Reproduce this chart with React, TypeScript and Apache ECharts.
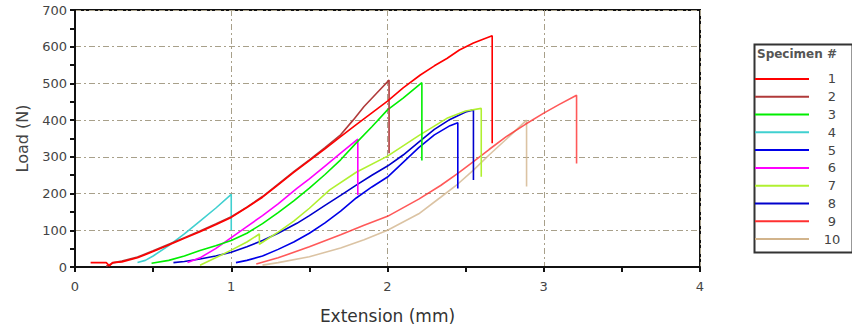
import React, { useEffect, useRef } from "react";
import * as echarts from "echarts";

const specimenNames = ["1", "2", "3", "4", "5", "6", "7", "8", "9", "10"];
const specimenColors = ["#ff0000", "#b03a3a", "#00ee00", "#40d0d0", "#0000e8", "#ff00ff", "#b0f030", "#0000cc", "#ff3030", "#d2b48c"];

const specimen1 = [[0.1,12],[0.2,12],[0.22,3],[0.24,12],[0.3,14],[0.4,25],[0.5,42],[0.6,60],[0.7,78],[0.8,96],[0.9,115],[1.0,135],[1.1,162],[1.2,190],[1.3,224],[1.4,258],[1.5,290],[1.6,322],[1.7,355],[1.8,388],[1.9,420],[2.0,452],[2.1,488],[2.21,523],[2.3,548],[2.38,568],[2.46,591],[2.55,610],[2.62,622],[2.67,630],[2.67,337]];
const specimen2 = [[0.2,2],[0.25,12],[0.3,16],[0.4,27],[0.5,44],[0.6,62],[0.7,80],[0.8,98],[0.9,117],[1.0,137],[1.1,163],[1.2,192],[1.3,226],[1.4,260],[1.5,292],[1.6,325],[1.7,360],[1.78,400],[1.85,437],[1.95,482],[2.01,509],[2.01,310]];
const specimen3 = [[0.49,10],[0.6,18],[0.7,30],[0.8,45],[0.9,58],[1.0,72],[1.1,92],[1.2,118],[1.3,148],[1.4,180],[1.5,215],[1.6,252],[1.7,292],[1.8,338],[1.9,382],[2.0,428],[2.1,460],[2.22,502],[2.22,290]];
const specimen4 = [[0.4,12],[0.45,18],[0.5,30],[0.6,58],[0.7,90],[0.8,125],[0.9,160],[1.0,198],[1.0,100]];
const specimen5 = [[1.03,12],[1.1,18],[1.2,30],[1.3,48],[1.4,68],[1.5,92],[1.6,120],[1.7,152],[1.8,188],[1.9,218],[2.0,245],[2.1,285],[2.2,325],[2.3,360],[2.4,385],[2.45,393],[2.45,214]];
const specimen6 = [[0.72,12],[0.8,25],[0.9,50],[1.0,80],[1.1,110],[1.2,140],[1.3,172],[1.42,214],[1.5,240],[1.6,275],[1.7,310],[1.81,348],[1.81,196]];
const specimen7 = [[0.8,5],[0.9,25],[1.0,46],[1.1,68],[1.18,90],[1.18,62],[1.3,95],[1.4,125],[1.5,160],[1.63,210],[1.8,258],[2.0,302],[2.2,358],[2.38,405],[2.5,425],[2.6,432],[2.6,246]];
const specimen8 = [[0.63,12],[0.7,15],[0.8,22],[0.9,30],[1.0,40],[1.1,55],[1.2,72],[1.3,92],[1.42,119],[1.5,140],[1.6,168],[1.7,195],[1.8,223],[1.9,250],[2.0,275],[2.1,305],[2.2,340],[2.3,375],[2.4,402],[2.5,422],[2.55,428],[2.55,237]];
const specimen9 = [[1.16,8],[1.3,25],[1.5,55],[1.7,88],[1.85,114],[2.0,138],[2.2,185],[2.34,222],[2.45,255],[2.55,287],[2.65,320],[2.76,355],[2.88,388],[3.0,419],[3.1,443],[3.21,468],[3.21,282]];
const specimen10 = [[1.2,5],[1.3,12],[1.5,28],[1.7,52],[1.85,74],[2.0,100],[2.2,145],[2.34,190],[2.45,226],[2.55,264],[2.65,305],[2.76,348],[2.89,400],[2.89,219]];

const specimens = [specimen1, specimen2, specimen3, specimen4, specimen5, specimen6, specimen7, specimen8, specimen9, specimen10];

const xTicks = [0, 1, 2, 3, 4];
const yTicks = [0, 100, 200, 300, 400, 500, 600, 700];

export default function App() {
  const ref = useRef<HTMLDivElement>(null);
  useEffect(() => {
    if (!ref.current) return;
    const chart = echarts.init(ref.current, null, { renderer: "svg" });
    const font = "DejaVu Sans, Verdana, sans-serif";
    const gridLine = { show: true, lineStyle: { color: "#a8a08a", width: 1, type: [6, 3, 2, 3] } };
    chart.setOption({
      animation: false,
      backgroundColor: "#ffffff",
      grid: { left: 75, right: 152, top: 10, bottom: 64, show: true, borderColor: "#111", borderWidth: 2, backgroundColor: "transparent" },
      xAxis: {
        type: "value",
        min: xTicks[0],
        max: xTicks[xTicks.length - 1],
        interval: 1,
        name: "Extension (mm)",
        nameLocation: "middle",
        nameGap: 40,
        nameTextStyle: { fontFamily: font, fontSize: 17, color: "#333" },
        axisLine: { show: true, lineStyle: { color: "#111", width: 2 } },
        axisTick: { show: true, length: 5, lineStyle: { color: "#111", width: 2 } },
        minorTick: { show: true, splitNumber: 2, length: 5, lineStyle: { color: "#111", width: 2 } },
        axisLabel: { fontFamily: font, fontSize: 13, color: "#444", margin: 13 },
        splitLine: gridLine,
      },
      yAxis: {
        type: "value",
        min: yTicks[0],
        max: yTicks[yTicks.length - 1],
        interval: 100,
        name: "Load (N)",
        nameLocation: "middle",
        nameGap: 45,
        nameTextStyle: { fontFamily: font, fontSize: 16, color: "#444" },
        axisLine: { show: true, lineStyle: { color: "#111", width: 2 } },
        axisTick: { show: true, length: 5, lineStyle: { color: "#111", width: 2 } },
        minorTick: { show: true, splitNumber: 2, length: 5, lineStyle: { color: "#111", width: 2 } },
        axisLabel: { fontFamily: font, fontSize: 13, color: "#444", margin: 8 },
        splitLine: gridLine,
      },
      legend: {
        orient: "vertical",
        left: 750,
        top: 65,
        itemGap: 0,
        itemWidth: 54,
        itemHeight: 2,
        icon: "rect",
        data: specimenNames,
        textStyle: {
          fontFamily: font,
          fontSize: 13,
          color: "#444",
          lineHeight: 17.8,
          rich: { n: { width: 36, align: "center", fontFamily: font, fontSize: 13, color: "#444", lineHeight: 17.8 } },
        },
        formatter: (name: string) => `{n|${name}}`,
      },
      graphic: [
        { type: "rect", left: 752, top: 42, shape: { width: 98, height: 208 }, style: { fill: "none", stroke: "#333", lineWidth: 2 } },
        { type: "text", left: 757, top: 48, style: { text: "Specimen #", font: `bold 12px ${font}`, fill: "#555" } },
      ],
      series: specimens.map((d, i) => ({
        name: specimenNames[i],
        type: "line",
        data: d,
        symbol: "none",
        showSymbol: false,
        color: specimenColors[i],
        lineStyle: { width: 1.6, color: specimenColors[i], opacity: i >= 8 ? 0.8 : 1 },
        z: 10 - i,
      })),
    });
    return () => chart.dispose();
  }, []);
  return <div ref={ref} style={{ width: 852, height: 331, position: "absolute", left: 0, top: 0 }} />;
}
